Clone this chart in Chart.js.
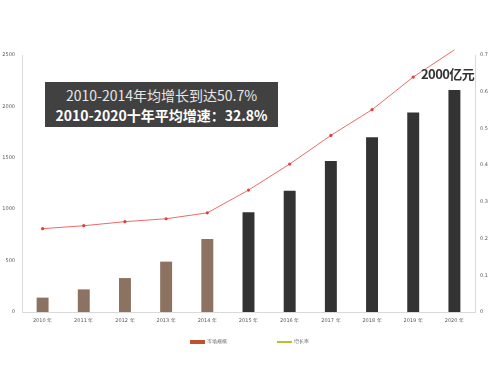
<!DOCTYPE html>
<html>
<head>
<meta charset="utf-8">
<script src="https://cdn.jsdelivr.net/npm/chart.js@4"></script>
<style>
  html, body { margin: 0; padding: 0; background: #fff; }
  #wrap { position: relative; width: 500px; height: 372px; }
  canvas { display: block; }
  #note {
    position: absolute; left: 45px; top: 82px; width: 233px; height: 45px;
    background: #414141; color: #fff; text-align: center;
    font-family: "Noto Sans CJK SC", "Noto Sans", sans-serif; font-size: 14px;
    line-height: 20px; padding-top: 3px; box-sizing: border-box;
  }
  #note .l1 { color: #e6e6e6; }
  #note .l2 { font-weight: bold; }
  #top {
    position: absolute; left: 421px; top: 64px; letter-spacing: -0.6px;
    font-family: "Noto Sans CJK SC", "Noto Sans", sans-serif; font-size: 13px;
    font-weight: bold; color: #333; text-shadow: 0 0 2px #fff, 0 0 2px #fff;
  }
  .legend {
    position: absolute; top: 338px; height: 7px;
    font-family: "DejaVu Sans", sans-serif; font-size: 5px; color: #666;
    line-height: 7px; white-space: nowrap;
  }
  .legend span.sw { display: inline-block; width: 15px; vertical-align: middle; margin-right: 2px; }
</style>
</head>
<body>
<div id="wrap">
  <canvas id="chart" width="500" height="372"></canvas>
  <div id="note"><div class="l1">2010-2014年均增长到达50.7%</div><div class="l2">2010-2020十年平均增速：32.8%</div></div>
  <div id="top">2000亿元</div>
  <div id="legend"></div>
</div>
<script>
const years = ["2010 年", "2011 年", "2012 年", "2013 年", "2014 年", "2015 年", "2016 年", "2017 年", "2018 年", "2019 年", "2020 年"];
const marketSize = [140, 220, 330, 490, 710, 970, 1180, 1470, 1700, 1940, 2160];
const growthRate = [0.227, 0.235, 0.246, 0.254, 0.27, 0.332, 0.403, 0.481, 0.551, 0.64, 0.714];
const barColors = ["#8c7260", "#8c7260", "#8c7260", "#8c7260", "#8c7260", "#333333", "#333333", "#333333", "#333333", "#333333", "#333333"];
const legendNames = ["市场规模", "增长率"];

const tickFont = { size: 5, family: "DejaVu Sans" };

// custom legend, matching the original swatches
function buildLegend() {
  const items = [
    { text: legendNames[0], color: "#c0502e", h: 4, left: 190 },
    { text: legendNames[1], color: "#bdbd2e", h: 2, left: 277 },
  ];
  const box = document.getElementById("legend");
  items.forEach((it) => {
    const el = document.createElement("div");
    el.className = "legend";
    el.style.left = it.left + "px";
    el.innerHTML = `<span class="sw" style="height:${it.h}px;background:${it.color}"></span>${it.text}`;
    box.appendChild(el);
  });
}

new Chart(document.getElementById("chart"), {
  data: {
    labels: years,
    datasets: [
      {
        type: "line",
        label: legendNames[1],
        data: growthRate,
        yAxisID: "y1",
        borderColor: "#ec6a66",
        borderWidth: 1,
        pointRadius: 1.6,
        pointBackgroundColor: "#e0403c",
        pointBorderWidth: 0,
        clip: false,
        order: 0,
      },
      {
        type: "bar",
        label: legendNames[0],
        data: marketSize,
        yAxisID: "y",
        backgroundColor: barColors,
        barPercentage: 0.29,
        categoryPercentage: 1,
        order: 1,
      },
    ],
  },
  options: {
    responsive: false,
    animation: false,
    layout: { padding: { top: 55, bottom: 42 } },
    plugins: {
      tooltip: { enabled: false },
      legend: { display: false },
    },
    scales: {
      x: {
        grid: { display: false, drawTicks: false },
        border: { color: "#d9d9d9" },
        ticks: { font: tickFont, color: "#595959", padding: 6, maxRotation: 0 },
      },
      y: {
        position: "left",
        min: 0,
        max: 2500,
        grid: { display: false, drawTicks: false },
        border: { color: "#d9d9d9" },
        ticks: {
          stepSize: 500, font: tickFont, color: "#595959", padding: 7,
          callback: (value) => String(value),
        },
        afterFit: function (axis) { axis.width = 22; },
      },
      y1: {
        position: "right",
        min: 0,
        max: 0.7,
        grid: { display: false, drawTicks: false },
        border: { color: "#d9d9d9" },
        ticks: {
          stepSize: 0.1, font: tickFont, color: "#595959", padding: 5,
          callback: (value) => String(Math.round(value * 10) / 10),
        },
        afterFit: function (axis) { axis.width = 25; },
      },
    },
  },
});

buildLegend();
</script>
</body>
</html>
